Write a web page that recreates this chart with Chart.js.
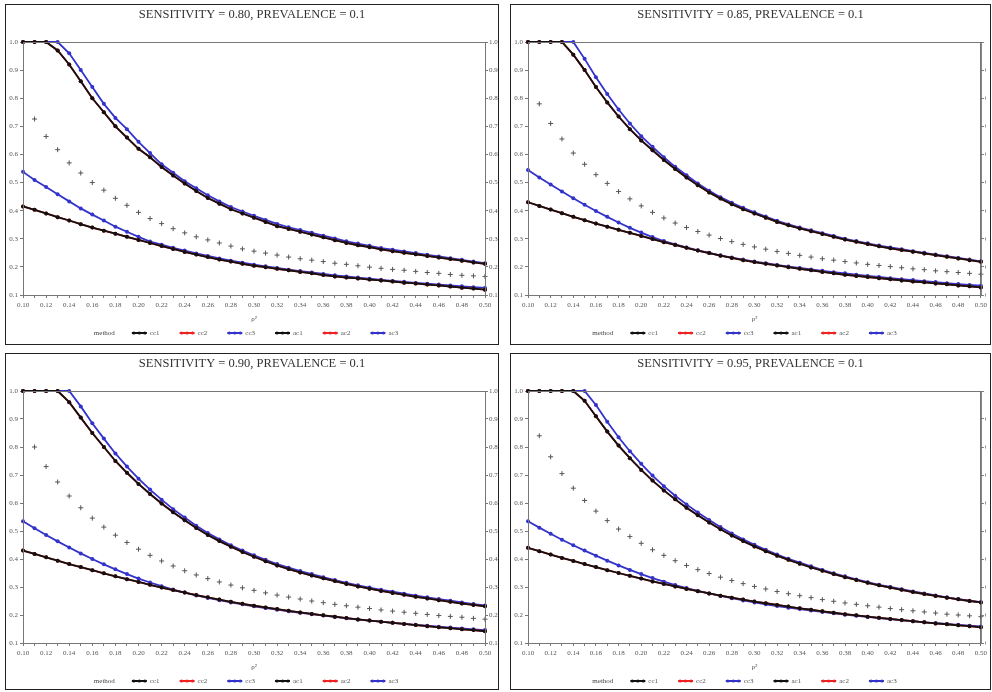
<!DOCTYPE html>
<html>
<head>
<meta charset="utf-8">
<script src="https://cdn.jsdelivr.net/npm/chart.js@4.4.1/dist/chart.umd.min.js"></script>
<style>
body{margin:0;background:#fff;width:992px;height:692px;position:relative;overflow:hidden}
.box{position:absolute;border:1px solid #222;box-sizing:border-box}
.box canvas{position:absolute;left:0;top:0}
</style>
</head>
<body>
<div class="box" style="left:5px;top:4px;width:494px;height:341px"><canvas id="c0" width="492" height="339"></canvas></div>
<div class="box" style="left:510px;top:4px;width:481px;height:341px"><canvas id="c1" width="479" height="339"></canvas></div>
<div class="box" style="left:5px;top:353px;width:494px;height:337px"><canvas id="c2" width="492" height="335"></canvas></div>
<div class="box" style="left:510px;top:353px;width:481px;height:337px"><canvas id="c3" width="479" height="335"></canvas></div>
<script>
const rho = [0.10,0.11,0.12,0.13,0.14,0.15,0.16,0.17,0.18,0.19,0.20,0.21,0.22,0.23,0.24,0.25,0.26,0.27,0.28,0.29,
             0.30,0.31,0.32,0.33,0.34,0.35,0.36,0.37,0.38,0.39,0.40,0.41,0.42,0.43,0.44,0.45,0.46,0.47,0.48,0.49,0.50];

const methodLabels = ['cc1', 'cc2', 'cc3', 'ac1', 'ac2', 'ac3'];
const titles = [
  'SENSITIVITY = 0.80, PREVALENCE = 0.1',
  'SENSITIVITY = 0.85, PREVALENCE = 0.1',
  'SENSITIVITY = 0.90, PREVALENCE = 0.1',
  'SENSITIVITY = 0.95, PREVALENCE = 0.1'
];

// sensitivity 0.80
const s80UpperBlack = [1,1,1,0.97,0.92,0.86,0.80,0.75,0.70,0.66,0.62,0.59,0.555,0.525,0.497,0.47,0.445,0.425,0.405,0.39,
  0.375,0.36,0.345,0.335,0.325,0.315,0.305,0.295,0.285,0.277,0.27,0.262,0.256,0.25,0.245,0.239,0.233,0.228,0.222,0.216,0.211];
const s80UpperBlue = [1,1,1,1,0.96,0.90,0.84,0.78,0.73,0.69,0.645,0.605,0.565,0.535,0.505,0.48,0.455,0.433,0.413,0.397,
  0.382,0.367,0.353,0.341,0.331,0.321,0.311,0.301,0.291,0.283,0.275,0.267,0.261,0.255,0.249,0.243,0.237,0.231,0.225,0.219,0.213];
const s80LowerBlack = [0.415,0.403,0.39,0.377,0.365,0.352,0.34,0.329,0.318,0.307,0.296,0.285,0.274,0.264,0.253,0.244,0.235,0.226,0.219,0.211,
  0.204,0.199,0.193,0.188,0.182,0.177,0.171,0.166,0.162,0.159,0.155,0.152,0.148,0.144,0.141,0.137,0.134,0.13,0.126,0.123,0.119];
const s80LowerBlue = [0.538,0.509,0.484,0.458,0.433,0.408,0.386,0.365,0.343,0.325,0.307,0.29,0.279,0.268,0.258,0.248,0.239,0.23,0.222,0.215,
  0.208,0.202,0.196,0.19,0.185,0.18,0.175,0.17,0.166,0.162,0.158,0.154,0.15,0.147,0.143,0.14,0.137,0.134,0.131,0.128,0.125];
const s80Cross = [null,0.726,0.664,0.617,0.57,0.534,0.50,0.473,0.444,0.419,0.394,0.372,0.354,0.336,0.321,0.307,0.296,0.285,0.274,0.264,
  0.256,0.249,0.242,0.235,0.229,0.224,0.219,0.213,0.209,0.204,0.199,0.195,0.191,0.188,0.184,0.18,0.177,0.173,0.17,0.168,0.166];

// sensitivity 0.85
const s85UpperBlack = [1,1,1,1,0.955,0.90,0.84,0.785,0.735,0.69,0.65,0.615,0.58,0.548,0.518,0.49,0.465,0.443,0.423,0.405,
  0.39,0.375,0.36,0.348,0.337,0.327,0.317,0.307,0.297,0.289,0.281,0.273,0.266,0.26,0.254,0.248,0.242,0.236,0.23,0.224,0.218];
const s85UpperBlue = [1,1,1,1,1,0.94,0.875,0.815,0.76,0.71,0.665,0.627,0.59,0.556,0.526,0.497,0.471,0.448,0.428,0.41,
  0.394,0.379,0.364,0.351,0.34,0.33,0.32,0.31,0.30,0.292,0.284,0.276,0.269,0.263,0.256,0.25,0.244,0.238,0.232,0.226,0.22];
const s85LowerBlack = [0.43,0.417,0.404,0.391,0.378,0.366,0.354,0.343,0.332,0.321,0.31,0.299,0.288,0.278,0.268,0.258,0.249,0.24,0.232,0.224,
  0.217,0.211,0.205,0.199,0.193,0.188,0.182,0.177,0.172,0.168,0.164,0.16,0.156,0.152,0.148,0.145,0.141,0.138,0.134,0.131,0.127];
const s85LowerBlue = [0.545,0.518,0.493,0.468,0.444,0.421,0.399,0.378,0.358,0.339,0.322,0.306,0.292,0.28,0.269,0.259,0.25,0.241,0.233,0.226,
  0.219,0.213,0.207,0.201,0.196,0.191,0.186,0.181,0.177,0.172,0.168,0.164,0.16,0.156,0.153,0.149,0.146,0.142,0.139,0.136,0.133];
const s85Cross = [null,0.78,0.71,0.655,0.605,0.565,0.528,0.497,0.468,0.442,0.417,0.394,0.374,0.356,0.34,0.326,0.313,0.301,0.29,0.28,
  0.271,0.263,0.255,0.248,0.241,0.235,0.229,0.224,0.219,0.214,0.209,0.205,0.201,0.197,0.193,0.19,0.186,0.183,0.18,0.177,0.174];

// sensitivity 0.90
const s90UpperBlack = [1,1,1,1,0.96,0.905,0.85,0.80,0.75,0.708,0.668,0.632,0.598,0.567,0.538,0.511,0.486,0.464,0.444,0.425,
  0.408,0.392,0.377,0.364,0.352,0.341,0.331,0.321,0.311,0.302,0.294,0.286,0.279,0.272,0.265,0.259,0.253,0.247,0.241,0.236,0.231];
const s90UpperBlue = [1,1,1,1,1,0.945,0.885,0.83,0.777,0.73,0.687,0.648,0.612,0.578,0.548,0.519,0.493,0.47,0.449,0.43,
  0.413,0.397,0.382,0.369,0.357,0.346,0.335,0.325,0.315,0.306,0.298,0.29,0.283,0.276,0.269,0.263,0.257,0.251,0.245,0.239,0.234];
const s90LowerBlack = [0.43,0.418,0.406,0.394,0.382,0.371,0.36,0.349,0.338,0.328,0.318,0.308,0.298,0.289,0.28,0.271,0.263,0.255,0.247,0.24,
  0.233,0.227,0.221,0.215,0.209,0.204,0.199,0.194,0.189,0.184,0.18,0.176,0.172,0.168,0.164,0.16,0.156,0.153,0.149,0.146,0.142];
const s90LowerBlue = [0.535,0.51,0.486,0.463,0.441,0.42,0.40,0.381,0.363,0.346,0.33,0.316,0.303,0.291,0.28,0.27,0.261,0.253,0.245,0.238,
  0.231,0.225,0.219,0.213,0.208,0.203,0.198,0.193,0.188,0.184,0.18,0.176,0.172,0.168,0.165,0.162,0.158,0.155,0.152,0.149,0.146];
const s90Cross = [null,0.80,0.73,0.675,0.625,0.583,0.546,0.514,0.485,0.459,0.435,0.413,0.393,0.375,0.358,0.343,0.33,0.318,0.307,0.297,
  0.288,0.279,0.271,0.264,0.257,0.25,0.244,0.238,0.233,0.228,0.223,0.218,0.214,0.21,0.206,0.202,0.198,0.195,0.192,0.188,0.185];

// sensitivity 0.95
const s95UpperBlack = [1,1,1,1,1,0.965,0.91,0.855,0.805,0.76,0.718,0.68,0.645,0.613,0.583,0.556,0.53,0.506,0.484,0.464,
  0.445,0.428,0.412,0.397,0.383,0.37,0.358,0.346,0.335,0.325,0.315,0.306,0.298,0.29,0.282,0.275,0.268,0.262,0.256,0.25,0.245];
const s95UpperBlue = [1,1,1,1,1,1,0.95,0.89,0.835,0.785,0.74,0.698,0.66,0.626,0.595,0.566,0.539,0.514,0.491,0.47,
  0.451,0.433,0.416,0.401,0.387,0.374,0.361,0.349,0.338,0.327,0.317,0.308,0.30,0.292,0.284,0.277,0.27,0.263,0.257,0.251,0.246];
const s95LowerBlack = [0.44,0.428,0.416,0.404,0.393,0.382,0.371,0.36,0.35,0.34,0.33,0.32,0.311,0.302,0.293,0.285,0.277,0.269,0.262,0.255,
  0.248,0.242,0.236,0.23,0.224,0.219,0.213,0.208,0.203,0.199,0.194,0.19,0.186,0.182,0.178,0.174,0.17,0.167,0.163,0.16,0.156];
const s95LowerBlue = [0.535,0.512,0.49,0.469,0.449,0.43,0.412,0.394,0.377,0.361,0.346,0.332,0.319,0.307,0.296,0.286,0.277,0.268,0.26,0.252,
  0.245,0.238,0.232,0.226,0.221,0.216,0.211,0.206,0.201,0.197,0.193,0.189,0.185,0.181,0.178,0.174,0.171,0.168,0.165,0.162,0.159];
const s95Cross = [null,0.84,0.765,0.705,0.653,0.609,0.571,0.537,0.507,0.48,0.456,0.433,0.413,0.394,0.377,0.362,0.348,0.335,0.323,0.312,
  0.302,0.293,0.284,0.276,0.269,0.262,0.255,0.249,0.243,0.238,0.233,0.228,0.223,0.219,0.215,0.211,0.207,0.203,0.20,0.197,0.194];

const BLACK = '#111111';
const RED = '#ee2222';
const BLUE = '#3333cc';
const FONT = 'Liberation Serif';

// plot frame on all four sides
const frame = {
  id: 'frame',
  afterDraw(chart) {
    const a = chart.chartArea, c = chart.ctx;
    c.save();
    c.strokeStyle = '#777';
    c.lineWidth = 1;
    c.strokeRect(a.left + 0.5, a.top + 0.5, a.width, a.height);
    c.restore();
  }
};

// one-row legend: "method" then a line sample per dataset
const methodLegend = {
  id: 'methodLegend',
  afterDraw(chart) {
    const c = chart.ctx;
    const items = chart.data.datasets.slice(0, 6);
    const y = chart.chartArea.bottom + 38;
    c.save();
    c.font = '7px "' + FONT + '"';
    c.textBaseline = 'middle';
    let total = c.measureText('method').width + 17;
    items.forEach(ds => { total += 18 + c.measureText(ds.label).width + 20; });
    let x = (chart.width - total) / 2 + 4;
    c.fillStyle = '#444';
    c.fillText('method', x, y);
    x += c.measureText('method').width + 17;
    items.forEach(ds => {
      c.strokeStyle = ds.borderColor;
      c.fillStyle = ds.borderColor;
      c.lineWidth = 2;
      c.beginPath(); c.moveTo(x, y); c.lineTo(x + 15, y); c.stroke();
      [2, 7.5, 13].forEach(dx => { c.beginPath(); c.arc(x + dx, y, 1.6, 0, Math.PI * 2); c.fill(); });
      x += 18;
      c.fillStyle = '#555';
      c.fillText(ds.label, x, y);
      x += c.measureText(ds.label).width + 20;
    });
    c.restore();
  }
};

function line(label, color, values) {
  return {
    label: label,
    data: rho.map((x, i) => ({x: x, y: values[i]})),
    borderColor: color,
    backgroundColor: color,
    borderWidth: 1.8,
    pointRadius: 2,
    pointBorderWidth: 0,
    clip: false
  };
}

function drawPanel(id, title, d, rightWidth, padBottom) {
  new Chart(document.getElementById(id), {
    type: 'line',
    data: {
      datasets: [
        line(methodLabels[0], BLACK, d.upperBlack),
        line(methodLabels[1], RED, d.upperBlack),
        line(methodLabels[2], BLUE, d.upperBlue),
        line(methodLabels[3], BLACK, d.lowerBlack),
        line(methodLabels[4], RED, d.lowerBlack),
        line(methodLabels[5], BLUE, d.lowerBlue),
        {
          label: 'ref',
          data: rho.map((x, i) => ({x: x, y: d.cross[i]})),
          showLine: false,
          pointStyle: 'cross',
          pointRadius: 2.5,
          borderColor: '#555',
          borderWidth: 1,
          clip: false
        }
      ]
    },
    options: {
      responsive: false,
      animation: false,
      layout: {padding: {left: 0, right: 0, top: 0, bottom: padBottom}},
      plugins: {
        tooltip: {enabled: false},
        legend: {display: false},
        title: {
          display: true,
          text: title,
          color: '#333',
          font: {family: FONT, size: 12.5, weight: 'normal'},
          padding: {top: 2, bottom: 20}
        }
      },
      scales: {
        x: {
          type: 'linear',
          min: 0.10,
          max: 0.50,
          afterFit: s => { s.height = 28; },
          afterBuildTicks: s => { s.ticks = rho.map(v => ({value: v})); },
          ticks: {
            autoSkip: false,
            maxRotation: 0,
            padding: 3,
            color: '#555',
            font: {family: FONT, size: 7},
            callback: v => (Math.round(v * 100) % 2 === 0 ? v.toFixed(2) : '')
          },
          grid: {drawOnChartArea: false, tickLength: 3, color: '#777'},
          border: {color: '#777'},
          title: {display: true, text: 'ρ²', color: '#444', font: {family: FONT, size: 7}, padding: {top: 0, bottom: 0}}
        },
        y: {
          min: 0.1,
          max: 1.0,
          afterFit: s => { s.width = 17; },
          ticks: {stepSize: 0.1, padding: 2, color: '#555', font: {family: FONT, size: 7}, callback: v => v.toFixed(1)},
          grid: {drawOnChartArea: false, tickLength: 3, color: '#777'},
          border: {color: '#777'}
        },
        y2: {
          position: 'right',
          min: 0.1,
          max: 1.0,
          afterFit: s => { s.width = rightWidth; },
          ticks: {stepSize: 0.1, padding: 1, color: '#555', font: {family: FONT, size: 7}, callback: v => v.toFixed(1)},
          grid: {drawOnChartArea: false, tickLength: 3, color: '#777'},
          border: {color: '#777'}
        }
      }
    },
    plugins: [frame, methodLegend]
  });
}

const s80 = {upperBlack: s80UpperBlack, upperBlue: s80UpperBlue, lowerBlack: s80LowerBlack, lowerBlue: s80LowerBlue, cross: s80Cross};
const s85 = {upperBlack: s85UpperBlack, upperBlue: s85UpperBlue, lowerBlack: s85LowerBlack, lowerBlue: s85LowerBlue, cross: s85Cross};
const s90 = {upperBlack: s90UpperBlack, upperBlue: s90UpperBlue, lowerBlack: s90LowerBlack, lowerBlue: s90LowerBlue, cross: s90Cross};
const s95 = {upperBlack: s95UpperBlack, upperBlue: s95UpperBlue, lowerBlack: s95LowerBlack, lowerBlue: s95LowerBlue, cross: s95Cross};
drawPanel('c0', titles[0], s80, 13, 21);
drawPanel('c1', titles[1], s85, 5, 21);
drawPanel('c2', titles[2], s90, 13, 18);
drawPanel('c3', titles[3], s95, 5, 18);
</script>
</body>
</html>
